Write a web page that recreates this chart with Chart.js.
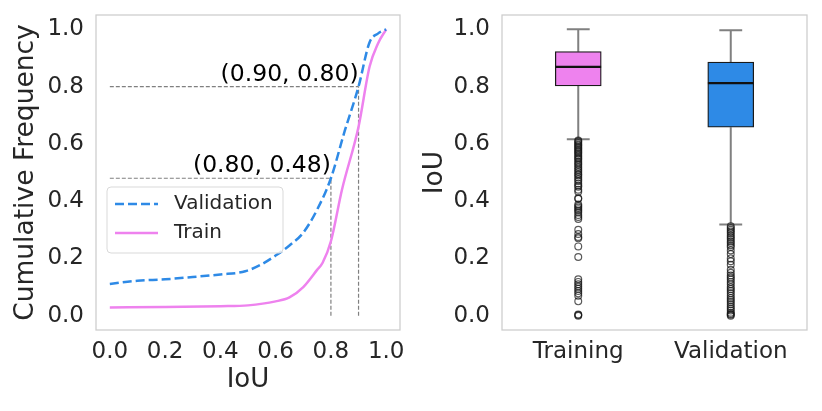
<!DOCTYPE html>
<html>
<head>
<meta charset="utf-8">
<script src="https://cdn.jsdelivr.net/npm/chart.js@4.4.1/dist/chart.umd.min.js"></script>
<style>
    body { margin: 0; background: #fff; }
    .wrap { position: relative; width: 822px; height: 411px; }
    canvas { position: absolute; top: 0; }
    #cdfChart { left: 0; }
    #boxChart { left: 411px; }
</style>
</head>
<body>
<div class="wrap">
    <canvas id="cdfChart" width="411" height="411"></canvas>
    <canvas id="boxChart" width="411" height="411"></canvas>
</div>
<script>
// --- data ---
const iouTicks = [0, 0.2, 0.4, 0.6, 0.8, 1.0];
const freqTicks = [0, 0.2, 0.4, 0.6, 0.8, 1.0];

const valIou  = [0, 0.1, 0.2, 0.3, 0.4, 0.49, 0.55, 0.6, 0.65, 0.7, 0.75, 0.8, 0.85, 0.9, 0.94, 0.97, 1.0];
const valFreq = [0.111, 0.122, 0.127, 0.135, 0.144, 0.155, 0.18, 0.21, 0.245, 0.29, 0.37, 0.48, 0.645, 0.80, 0.955, 0.985, 1.0];

const trainIou  = [0, 0.2, 0.4, 0.5, 0.6, 0.65, 0.7, 0.75, 0.77, 0.8, 0.84, 0.9, 0.94, 0.97, 1.0];
const trainFreq = [0.029, 0.030, 0.033, 0.036, 0.05, 0.064, 0.10, 0.16, 0.185, 0.26, 0.44, 0.66, 0.87, 0.95, 1.0];

// marked points (IoU, cumulative frequency)
const refIou  = [0.80, 0.90];
const refFreq = [0.48, 0.80];

const boxLabels = ['Training', 'Validation'];
const boxLow    = [0.616, 0.318];
const boxQ1     = [0.802, 0.658];
const boxMedian = [0.869, 0.812];
const boxQ3     = [0.922, 0.886];
const boxHigh   = [1.0, 0.997];
const boxColors = ['#ee82ee', '#2e8ae6'];

const trainOutliers = [0.612, 0.608, 0.603, 0.598, 0.594, 0.589, 0.585, 0.58, 0.575, 0.571, 0.566, 0.56,
    0.555, 0.55, 0.545, 0.538, 0.532, 0.527, 0.52, 0.514, 0.508, 0.502, 0.495, 0.49, 0.483, 0.476,
    0.47, 0.462, 0.455, 0.45, 0.44, 0.433, 0.41, 0.408, 0.388, 0.383, 0.378, 0.372, 0.366, 0.36,
    0.352, 0.345, 0.338, 0.30, 0.285, 0.275, 0.27, 0.242, 0.205, 0.127, 0.118, 0.11, 0.102, 0.094,
    0.086, 0.078, 0.07, 0.05, 0.004, 0.002, 0.0];
const valOutliers = [0.312, 0.306, 0.3, 0.294, 0.288, 0.28, 0.274, 0.268, 0.26, 0.254, 0.246, 0.24,
    0.228, 0.215, 0.2, 0.19, 0.178, 0.16, 0.15, 0.14, 0.133, 0.126, 0.118, 0.11, 0.1, 0.093, 0.086,
    0.078, 0.07, 0.062, 0.055, 0.048, 0.04, 0.032, 0.025, 0.018, 0.01, 0.006, 0.003, 0.0];

Chart.defaults.font.family = "'DejaVu Sans', sans-serif";
Chart.defaults.color = '#262626';

const textColor = '#262626';
const gap = (x) => ({ x: x, y: null });

// bỏ phần đệm tự động cho nhãn ở mép trục
const noEdgePad = (s) => {
    s.paddingTop = 0; s.paddingBottom = 0;
    s.paddingLeft = 0; s.paddingRight = 0;
};

// khung xám quanh vùng vẽ
const framePlugin = {
    id: 'frame',
    beforeDatasetsDraw(chart) {
        const a = chart.chartArea;
        const ctx = chart.ctx;
        ctx.save();
        ctx.strokeStyle = '#cccccc';
        ctx.lineWidth = 1.25;
        ctx.strokeRect(a.left, a.top, a.right - a.left, a.bottom - a.top);
        ctx.restore();
    }
};

// ghi chú toạ độ cạnh các đường tham chiếu
const notePlugin = {
    id: 'notes',
    afterDatasetsDraw(chart) {
        const ctx = chart.ctx;
        const xs = chart.scales.x, ys = chart.scales.y;
        ctx.save();
        ctx.font = "23.5px 'DejaVu Sans'";
        ctx.fillStyle = '#000';
        ctx.textAlign = 'right';
        ctx.textBaseline = 'alphabetic';
        refIou.forEach((rx, i) => {
            const label = '(' + rx.toFixed(2) + ', ' + refFreq[i].toFixed(2) + ')';
            ctx.fillText(label, xs.getPixelForValue(rx), ys.getPixelForValue(refFreq[i]) - 6);
        });
        ctx.restore();
    }
};

// chú thích kiểu matplotlib bên trong vùng vẽ
const insideLegend = {
    id: 'insideLegend',
    afterDraw(chart) {
        const ctx = chart.ctx;
        const a = chart.chartArea;
        const x = a.left + 11, y = a.top + 172, w = 176, h = 66;
        ctx.save();
        ctx.beginPath();
        ctx.roundRect(x, y, w, h, 4);
        ctx.fillStyle = 'rgba(255,255,255,0.8)';
        ctx.fill();
        ctx.strokeStyle = '#d9d9d9';
        ctx.lineWidth = 1;
        ctx.stroke();
        const items = chart.data.datasets.filter(d => d.inLegend);
        items.forEach((d, i) => {
            const ly = y + 17 + i * 29;
            ctx.beginPath();
            ctx.setLineDash(d.borderDash || []);
            ctx.strokeStyle = d.borderColor;
            ctx.lineWidth = d.borderWidth;
            ctx.moveTo(x + 8, ly);
            ctx.lineTo(x + 51, ly);
            ctx.stroke();
            ctx.setLineDash([]);
            ctx.fillStyle = textColor;
            ctx.font = "20px 'DejaVu Sans'";
            ctx.textBaseline = 'middle';
            ctx.fillText(d.label, x + 67, ly);
        });
        ctx.restore();
    }
};

// --- Biểu đồ CDF bên trái ---
const refLines = [];
refIou.forEach((rx, i) => {
    refLines.push({ x: 0, y: refFreq[i] }, { x: rx, y: refFreq[i] }, gap(rx));
    refLines.push({ x: rx, y: 0 }, { x: rx, y: refFreq[i] }, gap(rx));
});

new Chart(document.getElementById('cdfChart'), {
    type: 'scatter',
    data: {
        datasets: [{
            label: 'Validation',
            inLegend: true,
            data: valIou.map((v, i) => ({ x: v, y: valFreq[i] })),
            showLine: true,
            borderColor: '#2e8ae6',
            borderWidth: 2.5,
            borderDash: [9, 4],
            pointRadius: 0,
            cubicInterpolationMode: 'monotone',
            order: 1
        }, {
            label: 'Train',
            inLegend: true,
            data: trainIou.map((v, i) => ({ x: v, y: trainFreq[i] })),
            showLine: true,
            borderColor: '#ee82ee',
            borderWidth: 2.5,
            pointRadius: 0,
            cubicInterpolationMode: 'monotone',
            order: 2
        }, {
            label: 'ref',
            data: refLines,
            showLine: true,
            spanGaps: false,
            borderColor: '#808080',
            borderWidth: 1.2,
            borderDash: [4, 2],
            pointRadius: 0,
            order: 3
        }]
    },
    options: {
        responsive: false,
        animation: false,
        layout: { padding: { top: 15, right: 11, left: 0, bottom: 0 } },
        scales: {
            x: {
                type: 'linear',
                min: -0.05,
                max: 1.05,
                grid: { display: false, drawTicks: false },
                border: { display: false },
                afterBuildTicks: (s) => { s.ticks = iouTicks.map(v => ({ value: v })); },
                afterFit: (s) => { s.height = 81; noEdgePad(s); },
                ticks: { font: { size: 23 }, padding: 8, callback: (v) => v.toFixed(1) },
                title: { display: true, text: 'IoU', font: { size: 26 }, padding: { top: 0, bottom: 15 } }
            },
            y: {
                type: 'linear',
                min: -0.05,
                max: 1.05,
                grid: { display: false, drawTicks: false },
                border: { display: false },
                afterBuildTicks: (s) => { s.ticks = freqTicks.map(v => ({ value: v })); },
                afterFit: (s) => { s.width = 96; noEdgePad(s); },
                ticks: { font: { size: 23 }, padding: 12, callback: (v) => v.toFixed(1) },
                title: { display: true, text: 'Cumulative Frequency', font: { size: 26.5 }, padding: { top: 10, bottom: 0 } }
            }
        },
        plugins: {
            legend: { display: false },
            tooltip: { enabled: false }
        }
    },
    plugins: [framePlugin, notePlugin, insideLegend]
});

// --- Biểu đồ hộp bên phải ---
const capHalf = 0.075;
const whiskers = [];
const medians = [];
boxLabels.forEach((name, i) => {
    whiskers.push({ x: i, y: boxQ3[i] }, { x: i, y: boxHigh[i] }, gap(i));
    whiskers.push({ x: i, y: boxQ1[i] }, { x: i, y: boxLow[i] }, gap(i));
    whiskers.push({ x: i - capHalf, y: boxHigh[i] }, { x: i + capHalf, y: boxHigh[i] }, gap(i));
    whiskers.push({ x: i - capHalf, y: boxLow[i] }, { x: i + capHalf, y: boxLow[i] }, gap(i));
    medians.push({ x: i - 0.15, y: boxMedian[i] }, { x: i + 0.15, y: boxMedian[i] }, gap(i));
});
const outliers = trainOutliers.map(v => ({ x: 0, y: v }))
    .concat(valOutliers.map(v => ({ x: 1, y: v })));

new Chart(document.getElementById('boxChart'), {
    type: 'scatter',
    data: {
        datasets: [{
            type: 'bar',
            label: 'box',
            data: boxLabels.map((n, i) => ({ x: i, y: [boxQ1[i], boxQ3[i]] })),
            backgroundColor: boxColors,
            borderColor: '#1a1a1a',
            borderWidth: 1.3,
            borderSkipped: false,
            barThickness: 46,
            order: 2
        }, {
            label: 'whisker',
            data: whiskers,
            showLine: true,
            spanGaps: false,
            borderColor: '#808080',
            borderWidth: 2,
            pointRadius: 0,
            order: 3
        }, {
            label: 'median',
            data: medians,
            showLine: true,
            spanGaps: false,
            borderColor: '#111111',
            borderWidth: 2.2,
            pointRadius: 0,
            order: 1
        }, {
            label: 'outliers',
            data: outliers,
            pointRadius: 3.4,
            pointBorderWidth: 1.2,
            pointBackgroundColor: 'rgba(0,0,0,0)',
            pointBorderColor: 'rgba(20,20,20,0.7)',
            order: 0
        }]
    },
    options: {
        responsive: false,
        animation: false,
        layout: { padding: { top: 15, right: 15, left: 0, bottom: 0 } },
        scales: {
            x: {
                type: 'linear',
                min: -0.5,
                max: 1.5,
                offset: false,
                grid: { display: false, drawTicks: false },
                border: { display: false },
                afterBuildTicks: (s) => { s.ticks = boxLabels.map((n, i) => ({ value: i })); },
                afterFit: (s) => { s.height = 81; noEdgePad(s); },
                ticks: { font: { size: 23 }, padding: 8, callback: (v) => boxLabels[v] }
            },
            y: {
                type: 'linear',
                min: -0.05,
                max: 1.05,
                grid: { display: false, drawTicks: false },
                border: { display: false },
                afterBuildTicks: (s) => { s.ticks = freqTicks.map(v => ({ value: v })); },
                afterFit: (s) => { s.width = 91; noEdgePad(s); },
                ticks: { font: { size: 23 }, padding: 12, callback: (v) => v.toFixed(1) },
                title: { display: true, text: 'IoU', font: { size: 26.5 }, padding: { top: 8, bottom: 0 } }
            }
        },
        plugins: {
            legend: { display: false },
            tooltip: { enabled: false }
        }
    },
    plugins: [framePlugin]
});
</script>
</body>
</html>
